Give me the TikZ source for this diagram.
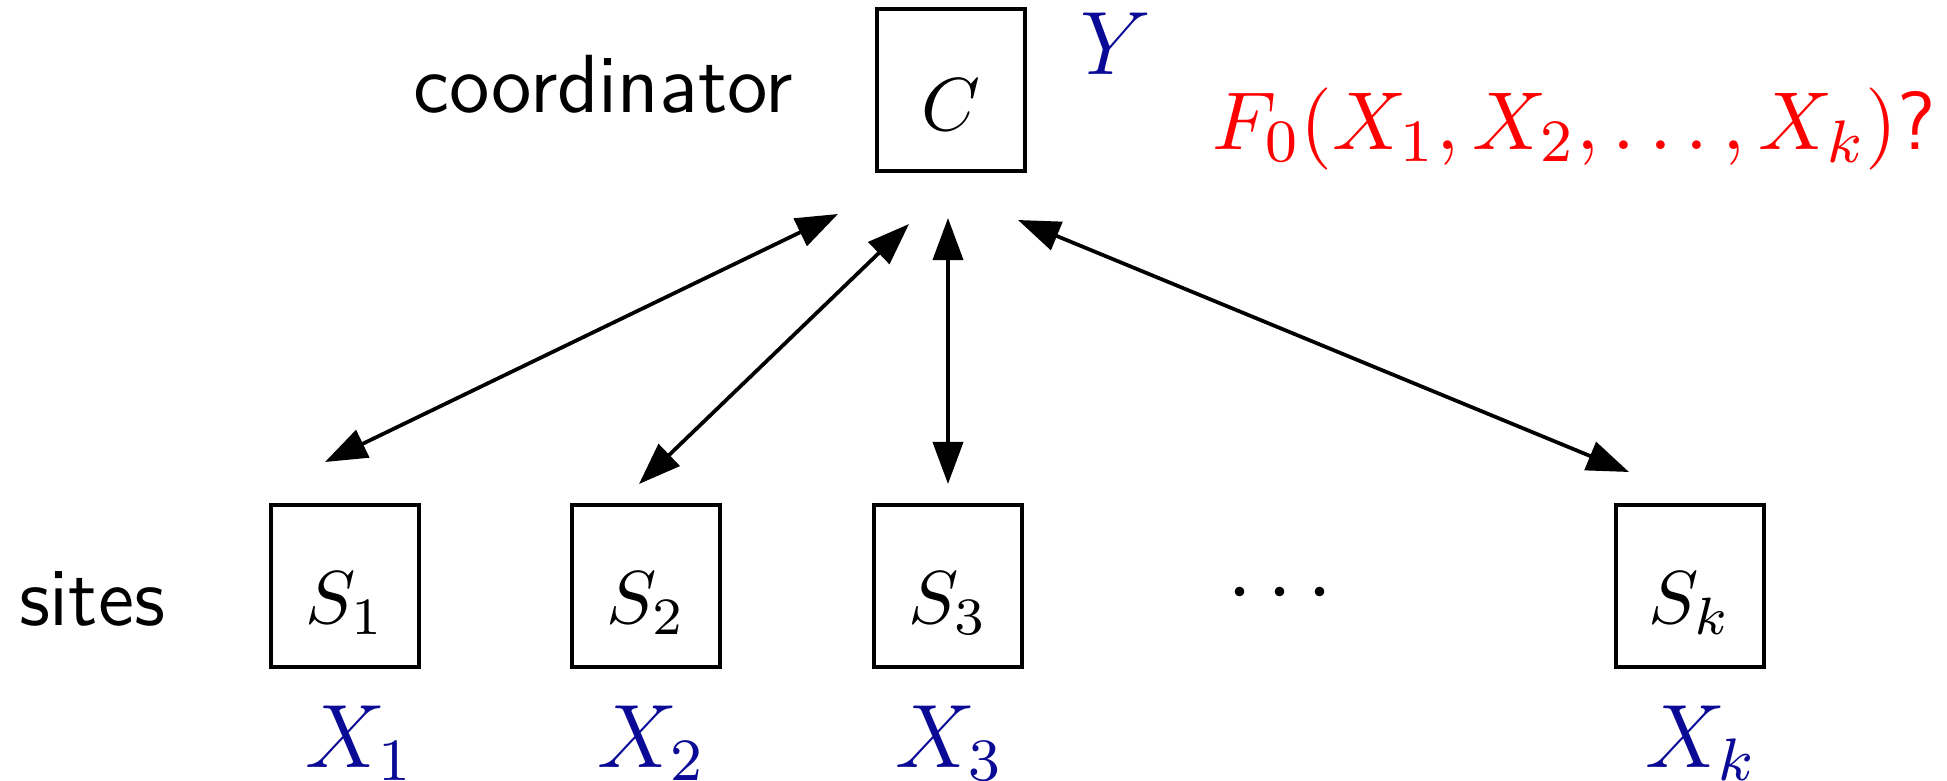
\documentclass[tikz,border=0pt]{standalone}
\usetikzlibrary{arrows.meta}
\definecolor{navy}{RGB}{10,10,150}
\begin{document}
\begin{tikzpicture}[x=0.1333pt,y=-0.1333pt,
  box/.style={draw,line width=0.55pt,minimum width=19.8pt,minimum height=21.6pt,inner sep=0pt},
  arr/.style={{Triangle[length=5.6pt,width=4pt]}-{Triangle[length=5.6pt,width=4pt]},line width=0.5pt},
  var/.style={text=navy,font=\large,anchor=base},
  word/.style={anchor=base,font=\sffamily\fontsize{11}{13}\selectfont}]
\useasboundingbox (0,0) rectangle (1947,781);
% boxes
\node[box] (C) at (951,90) {};
\node[box] (S1) at (345,586) {};
\node[box] (S2) at (646,586) {};
\node[box] (S3) at (948,586) {};
\node[box] (Sk) at (1690,586) {};
% box labels
\node[anchor=base] (Cl) at ([yshift=-5.4pt]C.center) {$C$};
\node[anchor=base] (S1l) at ([yshift=-5pt]S1.center) {$S_1$};
\node[anchor=base] (S2l) at ([yshift=-5pt]S2.center) {$S_2$};
\node[anchor=base] (S3l) at ([yshift=-5pt]S3.center) {$S_3$};
\node[anchor=base] (Skl) at ([yshift=-5pt]Sk.center) {$S_k$};
% texts
\node[word] (coord) at (603,112) {coordinator};
\node[word] (sites) at (92,625) {sites};
\node[var] (Y) at (1116,74) {$Y$};
\node[anchor=base,text=red,font=\fontsize{11}{13}\selectfont] (F) at (1574,149) {$F_0(X_1,X_2,\ldots,X_k)$\textsf{?}};
\node[font=\large] (dots) at (1280,594) {$\cdots$};
\node[var] (X1) at (360,767) {$X_1$};
\node[var] (X2) at (652,767) {$X_2$};
\node[var] (X3) at (950,767) {$X_3$};
\node[var] (Xk) at (1701,767) {$X_k$};
% arrow ends
\coordinate (a1) at (325,462); \coordinate (b1) at (838,214);
\coordinate (a2) at (639,484); \coordinate (b2) at (909,224);
\coordinate (a3) at (948,484); \coordinate (b3) at (948,218);
\coordinate (a4) at (1629,472); \coordinate (b4) at (1018,220);
\draw[arr] (a1) -- (b1);
\draw[arr] (a2) -- (b2);
\draw[arr] (a3) -- (b3);
\draw[arr] (a4) -- (b4);
\end{tikzpicture}
\end{document}
